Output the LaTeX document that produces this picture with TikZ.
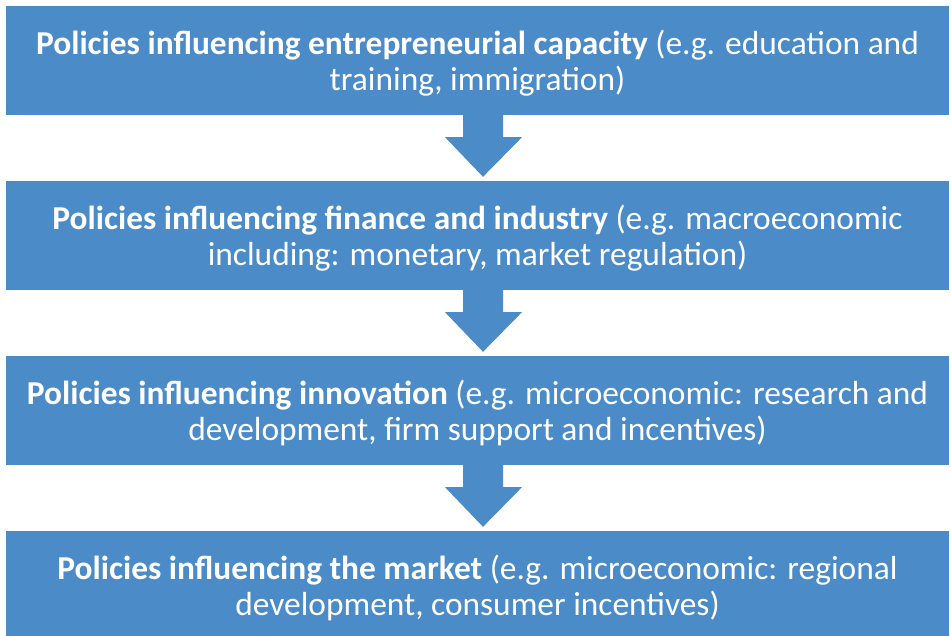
\documentclass[tikz,border=0pt]{standalone}
\usepackage{fontspec}
\setmainfont{Carlito}
\usetikzlibrary{calc}
\definecolor{boxblue}{RGB}{75,139,200}
\tikzset{
  policybox/.style={fill=boxblue, draw=none, minimum width=943pt, minimum height=109pt,
    inner sep=0pt},
  policytext/.style={inner sep=0pt, align=center, text=white, yshift=-2.5pt,
    font=\fontsize{33.4}{35.5}\selectfont},
  flowarrow/.style={fill=boxblue, draw=none}
}
\newcommand{\flowdown}[2]{%
  \fill[flowarrow] ($(#1.south)+(-14.5pt,1pt)$) -- ($(#1.south)+(25.5pt,1pt)$)
    -- ($(#1.south)+(25.5pt,-22pt)$) -- ($(#1.south)+(44.5pt,-22pt)$)
    -- ($(#2.north)+(5.5pt,4pt)$) -- ($(#1.south)+(-32.5pt,-22pt)$)
    -- ($(#1.south)+(-14.5pt,-22pt)$) -- cycle;}
\begin{document}
\begin{tikzpicture}
\useasboundingbox (0pt,0pt) rectangle (951pt,-636pt);
\node[policybox] (b1) at (477.5pt,-60.5pt) {};
\node[policybox] (b2) at (477.5pt,-235.5pt) {};
\node[policybox] (b3) at (477.5pt,-410.5pt) {};
\node[policybox] (b4) at (477.5pt,-585.5pt) {};
\node[policytext] (t1) at (b1.center) {\textbf{Policies influencing entrepreneurial capacity} (e.g. education and\\training, immigration)};
\node[policytext] (t2) at (b2.center) {\textbf{Policies influencing finance and industry} (e.g. macroeconomic\\including: monetary, market regulation)};
\node[policytext] (t3) at (b3.center) {\textbf{Policies influencing innovation} (e.g. microeconomic: research and\\development, firm support and incentives)};
\node[policytext] (t4) at (b4.center) {\textbf{Policies influencing the market} (e.g. microeconomic: regional\\development, consumer incentives)};
\flowdown{b1}{b2}
\flowdown{b2}{b3}
\flowdown{b3}{b4}
\end{tikzpicture}
\end{document}
